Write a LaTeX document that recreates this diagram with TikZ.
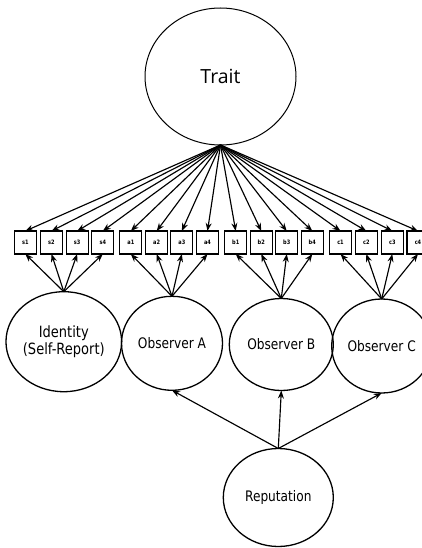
\documentclass[tikz,border=0pt]{standalone}
\usepackage{fontspec}
\usetikzlibrary{shapes.geometric,arrows.meta}
\newfontfamily\labelfont{DejaVu Sans}[FakeStretch=0.84]
\newfontfamily\titlefont{Open Sans}
\begin{document}
\begin{tikzpicture}[x=1pt,y=-1pt,
  latent/.style={ellipse,draw,line width=1.3pt,inner sep=0pt,outer sep=0pt,
    align=center,font=\labelfont\fontsize{14.5}{16}\selectfont},
  item/.style={rectangle,draw,line width=1.3pt,minimum width=22pt,minimum height=23pt,
    inner sep=0pt,outer sep=0pt,font=\labelfont\bfseries\fontsize{6}{7}\selectfont},
  load/.style={line width=1.15pt,-{Stealth[length=8pt,width=6pt]}}]
\useasboundingbox (0,0) rectangle (422,548);
\clip (0,0) rectangle (422,548);

% general factor
\node[latent,minimum width=151pt,minimum height=137pt,line width=1pt,
  font=\titlefont\fontsize{19.5}{22}\selectfont] (trait) at (220.5,76.5) {Trait};

% indicators
\foreach \n/\x in {s1/25.3,s2/51.5,s3/77.2,s4/102.8,
                   a1/130.8,a2/156.7,a3/181.8,a4/207.5,
                   b1/235.7,b2/261.3,b3/286.7,b4/312.3,
                   c1/340.5,c2/366.3,c3/392.3,c4/418}
  \node[item] (\n) at (\x,242.5) {\n};

% perspective factors
\node[latent,minimum width=109pt,minimum height=100pt,
  font=\labelfont\fontsize{15.5}{16.5}\selectfont] (ident) at (63.8,341.7) {Identity\\(Self-Report)};
\node[latent,minimum width=101pt,minimum height=94pt] (obsA) at (172,343.3) {Observer A};
\node[latent,minimum width=104pt,minimum height=92pt] (obsB) at (281.3,344.5) {Observer B};
\node[latent,minimum width=100pt,minimum height=94pt] (obsC) at (381.7,346) {Observer C};
\node[latent,minimum width=110pt,minimum height=98pt] (rep) at (278.3,497.5) {Reputation};

% trait loadings
\foreach \n in {s1,s2,s3,s4,a1,a2,a3,a4,b1,b2,b3,b4,c1,c2,c3,c4}
  \draw[load] (trait.south) -- (\n.north);

% perspective loadings
\foreach \f/\g in {ident/s,obsA/a,obsB/b,obsC/c}
  \foreach \i in {1,2,3,4}
    \draw[load] (\f.north) -- (\g\i.south);

% reputation paths
\foreach \o in {obsA,obsB,obsC}
  \draw[load] (rep.north) -- (\o.south);
\end{tikzpicture}
\end{document}
